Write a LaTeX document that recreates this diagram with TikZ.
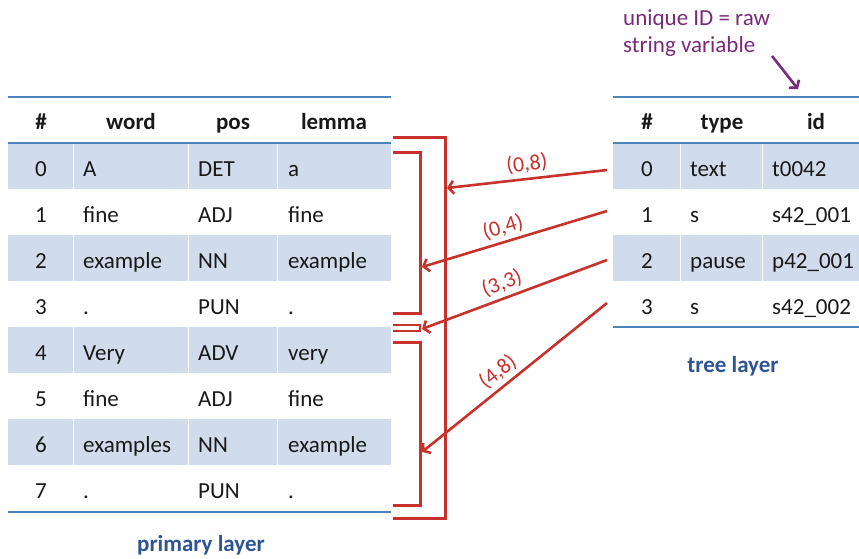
\documentclass[tikz,border=0pt]{standalone}
\usepackage{fontspec}
\setmainfont{Carlito}
\usetikzlibrary{arrows.meta}
\definecolor{rulecol}{RGB}{79,129,189}
\definecolor{rowshade}{RGB}{208,220,236}
\definecolor{redline}{RGB}{200,50,45}
\definecolor{titleblue}{RGB}{46,84,150}
\definecolor{purp}{RGB}{122,42,122}
\tikzset{
  cell/.style={inner sep=0pt, font=\fontsize{23}{26}\selectfont, text=black!90},
  hcell/.style={cell, font=\fontsize{23}{26}\selectfont\bfseries},
  rulel/.style={draw=rulecol, line width=2pt},
  sepline/.style={draw=white, line width=1pt},
  bracket/.style={draw=redline, line width=3pt},
  redarrow/.style={draw=redline, line width=2.6pt, -{Straight Barb[length=5pt,width=13pt]}},
  lab/.style={text=redline, font=\fontsize{22}{24}\selectfont, sloped, above=4pt, inner sep=0pt},
  title/.style={inner sep=0pt, text=titleblue, font=\fontsize{23}{26}\selectfont\bfseries},
}
\begin{document}
\begin{tikzpicture}[x=1pt,y=-1pt]
\useasboundingbox (0,0) rectangle (859,558);
% shaded rows, left table
\foreach \i in {0,2,4,6}{
  \fill[rowshade] (8,143+46*\i) rectangle (391,143+46*\i+46);
  \draw[sepline] (73,143+46*\i) -- (73,143+46*\i+46);
  \draw[sepline] (188,143+46*\i) -- (188,143+46*\i+46);
  \draw[sepline] (277,143+46*\i) -- (277,143+46*\i+46);
}
% shaded rows, right table
\foreach \i in {0,2}{
  \fill[rowshade] (613,143+46*\i) rectangle (859,143+46*\i+46);
  \draw[sepline] (680,143+46*\i) -- (680,143+46*\i+46);
  \draw[sepline] (762,143+46*\i) -- (762,143+46*\i+46);
}
% rules
\draw[rulel] (8,97) -- (391,97);
\draw[rulel, line width=1.6pt] (8,143) -- (391,143);
\draw[rulel] (8,512) -- (391,512);
\draw[rulel] (613,97) -- (859,97);
\draw[rulel, line width=1.6pt] (613,143) -- (859,143);
\draw[rulel] (613,327) -- (859,327);
% left header
\node[hcell, anchor=base] (lhn) at (41,129) {\#};
\node[hcell, anchor=base] (lhw) at (131,129) {word};
\node[hcell, anchor=base] (lhp) at (233,129) {pos};
\node[hcell, anchor=base] (lhl) at (334,129) {lemma};
% left rows
\foreach \n/\w/\p/\l in {0/A/DET/a, 1/fine/ADJ/fine, 2/example/NN/example, 3/./PUN/., 4/Very/ADV/very, 5/fine/ADJ/fine, 6/examples/NN/example, 7/./PUN/.}{
  \node[cell, anchor=base] (ln\n) at (41,176+46*\n) {\n};
  \node[cell, anchor=base west] (lw\n) at (83,176+46*\n) {\w};
  \node[cell, anchor=base west] (lp\n) at (198,176+46*\n) {\p};
  \node[cell, anchor=base west] (ll\n) at (288,176+46*\n) {\l};
}
% right header
\node[hcell, anchor=base] (rhn) at (647,129) {\#};
\node[hcell, anchor=base] (rht) at (722,129) {type};
\node[hcell, anchor=base] (rhi) at (816,129) {id};
\foreach \n/\t/\d in {0/text/t0042, 1/s/s42\_001, 2/pause/p42\_001, 3/s/s42\_002}{
  \node[cell, anchor=base] (rn\n) at (647,176+46*\n) {\n};
  \node[cell, anchor=base west] (rt\n) at (690,176+46*\n) {\t};
  \node[cell, anchor=base west] (ri\n) at (772,176+46*\n) {\d};
}
% titles
\node[title, anchor=base] (ptitle) at (201,551) {primary layer};
\node[title, anchor=base] (ttitle) at (733,372) {tree layer};
% note
\node[inner sep=0pt, anchor=north west, align=left, text=purp,
      font=\fontsize{23}{27}\selectfont] (note) at (623,9) {unique ID = raw\\string variable};
\coordinate (ns) at (772,56);
\coordinate (ne) at (798,89);
\draw[draw=purp, line width=2.6pt, -{Straight Barb[length=5pt,width=13pt]}] (ns) -- (ne);
% brackets
\draw[bracket] (393,137) -- (445,137) -- (445,518) -- (393,518);
\draw[bracket] (393,152) -- (420,152) -- (420,313) -- (393,313);
\draw[bracket, line width=2pt] (393,325) -- (420,325) -- (420,331) -- (393,331);
\draw[bracket] (393,342) -- (420,342) -- (420,505) -- (393,505);
% arrow endpoints
\coordinate (s0) at (607,170);
\coordinate (s1) at (607,211);
\coordinate (s2) at (607,260);
\coordinate (s3) at (607,303);
\coordinate (e0) at (447,188);
\coordinate (e1) at (422,267);
\coordinate (e2) at (422,329);
\coordinate (e3) at (422,452);
\draw[redarrow] (s0) -- node[lab, pos=0.49] {(0,8)} (e0);
\draw[redarrow] (s1) -- node[lab, pos=0.54] {(0,4)} (e1);
\draw[redarrow] (s2) -- node[lab, pos=0.54] {(3,3)} (e2);
\draw[redarrow] (s3) -- node[lab, pos=0.54] {(4,8)} (e3);
\end{tikzpicture}
\end{document}
